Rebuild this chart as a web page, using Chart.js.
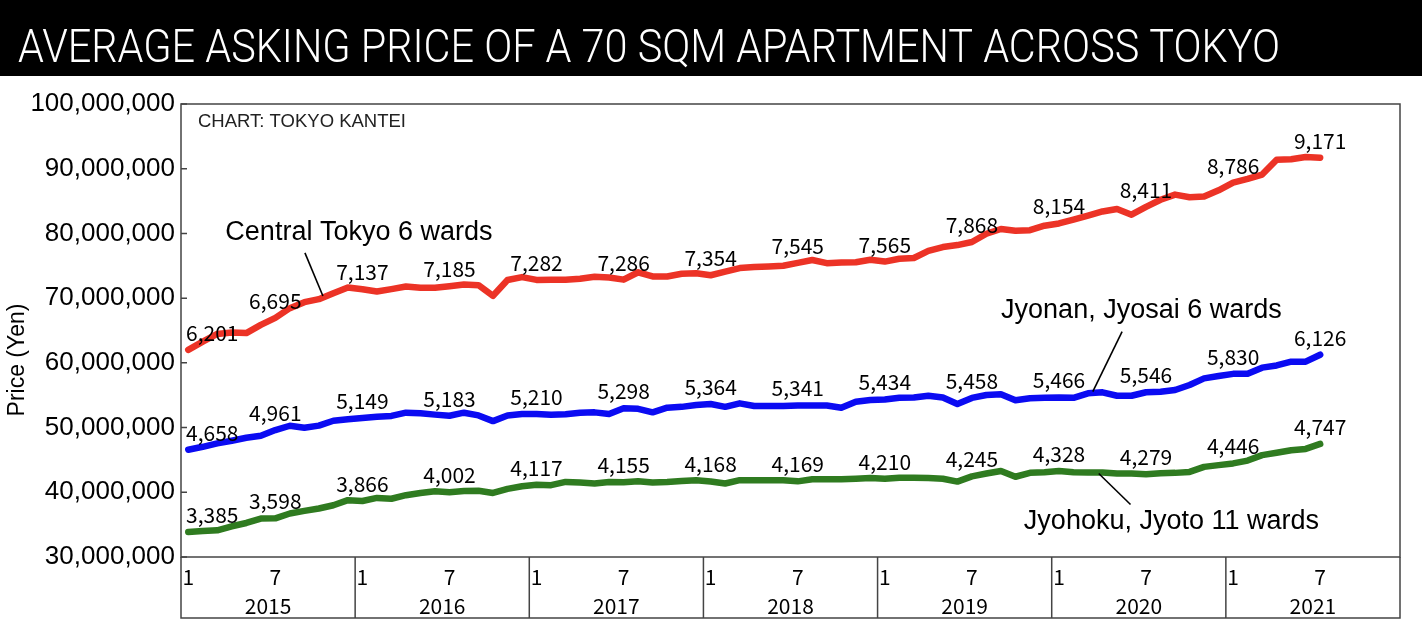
<!DOCTYPE html>
<html><head><meta charset="utf-8">
<script src="https://cdn.jsdelivr.net/npm/chart.js@4.4.1/dist/chart.umd.min.js"></script>
<style>html,body{margin:0;padding:0;background:#fff;overflow:hidden}canvas{display:block}</style>
</head><body>
<canvas id="c" width="1422" height="623" style="width:1422px;height:623px"></canvas>
<script>
// ---- data (values in units of 10,000 yen) ----
const years = ['2015','2016','2017','2018','2019','2020','2021'];
const monthTicks = ['1','','','','','','7','','','','',''];
const labelMonths = [1, 7];
const seriesNames = ['Central Tokyo 6 wards', 'Jyonan, Jyosai 6 wards', 'Jyohoku, Jyoto 11 wards'];
const centralTokyo = [
  6201,6328,6447,6468,6460,6587,6695,6845,6938,6984,7077,7164,
  7137,7102,7140,7180,7160,7160,7185,7210,7200,7036,7280,7325,
  7282,7285,7285,7300,7330,7319,7286,7400,7335,7335,7376,7385,
  7354,7410,7464,7480,7490,7500,7545,7590,7540,7550,7555,7593,
  7565,7608,7620,7730,7790,7820,7868,7995,8068,8042,8050,8119,
  8154,8212,8274,8340,8378,8290,8411,8520,8600,8560,8570,8667,
  8786,8842,8909,9140,9145,9180,9171
];
const jyonanJyosai = [
  4658,4703,4755,4796,4842,4873,4961,5028,4997,5030,5105,5130,
  5149,5167,5180,5230,5220,5200,5183,5230,5188,5100,5188,5210,
  5210,5200,5205,5230,5235,5209,5298,5290,5235,5307,5320,5348,
  5364,5320,5374,5333,5333,5333,5341,5340,5340,5307,5400,5425,
  5434,5460,5465,5492,5465,5364,5458,5503,5514,5421,5452,5460,
  5466,5460,5529,5545,5492,5492,5546,5555,5580,5658,5760,5797,
  5830,5830,5926,5960,6018,6018,6126
];
const jyohokuJyoto = [
  3385,3400,3413,3475,3526,3594,3598,3672,3712,3749,3800,3878,
  3866,3913,3900,3955,3990,4015,4002,4020,4025,3990,4052,4094,
  4117,4110,4160,4150,4136,4160,4155,4172,4150,4160,4175,4187,
  4168,4136,4187,4187,4187,4187,4169,4200,4200,4200,4210,4220,
  4210,4225,4225,4220,4210,4165,4245,4290,4330,4240,4300,4310,
  4328,4310,4305,4305,4290,4290,4279,4295,4300,4315,4393,4420,
  4446,4490,4574,4610,4650,4670,4747
];
const yTicksYen = [30000000, 100000000, 10000000]; // min, max, step

// ---- styles ----
const colors = ['#EC3326', '#0B0BF2', '#2F7B20'];
const categories = years.flatMap(y => monthTicks.map((_, m) => y + '-' + (m + 1)));
const UNIT = 10000;

// callouts in data coordinates: [category index, yen]
const callouts = [
  { text: seriesNames[0], at: [11.76, 80.1e6], from: [8.04, 77.0e6], to: [9.28, 70.34e6] },
  { text: seriesNames[1], at: [65.68, 68.03e6], from: [64.35, 64.83e6], to: [62.33, 55.54e6] },
  { text: seriesNames[2], at: [67.75, 35.42e6], from: [62.74, 42.91e6], to: [64.93, 38.11e6] }
];

const decor = {
  id: 'decor',
  beforeDraw(chart) {
    const ctx = chart.ctx;
    ctx.save();
    ctx.fillStyle = '#fff';
    ctx.fillRect(0, 0, chart.width, chart.height);
    // title bar
    ctx.fillStyle = '#000';
    ctx.fillRect(0, 0, chart.width, 76);
    ctx.fillStyle = '#fff';
    ctx.font = '300 46px Roboto, "Liberation Sans", sans-serif';
    ctx.textBaseline = 'alphabetic';
    ctx.textAlign = 'left';
    const t = 'AVERAGE ASKING PRICE OF A 70 SQM APARTMENT ACROSS TOKYO';
    const w = ctx.measureText(t).width;
    ctx.translate(18, 62);
    ctx.scale(1262 / w, 1);
    ctx.fillText(t, 0, 0);
    ctx.restore();
  },
  afterDraw(chart) {
    const ctx = chart.ctx, a = chart.chartArea;
    const xs = chart.scales.x, ys = chart.scales.y;
    ctx.save();
    // frame
    ctx.strokeStyle = '#444';
    ctx.lineWidth = 1.5;
    ctx.strokeRect(a.left, a.top, a.right - a.left, a.bottom - a.top);
    const boxBottom = a.bottom + 61;
    ctx.beginPath();
    ctx.moveTo(a.left, a.bottom); ctx.lineTo(a.left, boxBottom);
    ctx.lineTo(a.right, boxBottom); ctx.lineTo(a.right, a.bottom);
    const cw = (xs.getPixelForValue(1) - xs.getPixelForValue(0));
    years.forEach((y, k) => {
      if (k === 0) return;
      const xb = xs.getPixelForValue(k * 12) - cw / 2;
      ctx.moveTo(xb, a.bottom); ctx.lineTo(xb, boxBottom);
    });
    ctx.stroke();
    // inner y ticks
    ctx.beginPath();
    ys.ticks.forEach(tk => {
      const yp = ys.getPixelForValue(tk.value);
      ctx.moveTo(a.left, yp); ctx.lineTo(a.left + 6, yp);
    });
    ctx.stroke();
    // year labels
    ctx.fillStyle = '#000';
    ctx.font = '21px "Noto Sans CJK JP", sans-serif';
    ctx.textAlign = 'center';
    ctx.textBaseline = 'middle';
    years.forEach((y, k) => {
      const xc = (xs.getPixelForValue(k * 12) + xs.getPixelForValue(k * 12 + 11)) / 2;
      ctx.fillText(y, xc, a.bottom + 49);
    });
    // y-axis title
    ctx.save();
    ctx.translate(18, 360);
    ctx.rotate(-Math.PI / 2);
    ctx.font = '23px "Liberation Sans", Arial, sans-serif';
    ctx.fillText('Price (Yen)', 0, 0);
    ctx.restore();
    // source note
    ctx.font = '18.5px "Liberation Sans", Arial, sans-serif';
    ctx.fillStyle = '#222';
    ctx.textAlign = 'left';
    ctx.fillText('CHART: TOKYO KANTEI', a.left + 17, a.top + 18);
    // callouts
    ctx.fillStyle = '#000';
    ctx.strokeStyle = '#000';
    ctx.lineWidth = 1.6;
    ctx.font = '27px "Liberation Sans", Arial, sans-serif';
    ctx.textAlign = 'center';
    callouts.forEach(c => {
      ctx.fillText(c.text, xs.getPixelForValue(c.at[0]), ys.getPixelForValue(c.at[1]));
      ctx.beginPath();
      ctx.moveTo(xs.getPixelForValue(c.from[0]), ys.getPixelForValue(c.from[1]));
      ctx.lineTo(xs.getPixelForValue(c.to[0]), ys.getPixelForValue(c.to[1]));
      ctx.stroke();
    });
    // value labels
    ctx.font = '21px "Noto Sans CJK JP", sans-serif';
    chart.data.datasets.forEach((ds, d) => {
      const meta = chart.getDatasetMeta(d);
      const raw = [centralTokyo, jyonanJyosai, jyohokuJyoto][d];
      raw.forEach((v, i) => {
        if (!labelMonths.includes(i % 12 + 1)) return;
        const pt = meta.data[i];
        const txt = v.toLocaleString('en-US');
        const tw = ctx.measureText(txt).width;
        let x = pt.x;
        if (x - tw / 2 < a.left + 5) x = a.left + 5 + tw / 2;
        ctx.fillText(txt, x, pt.y - 17);
      });
    });
    ctx.restore();
  }
};

new Chart(document.getElementById('c'), {
  type: 'line',
  data: {
    labels: categories,
    datasets: [centralTokyo, jyonanJyosai, jyohokuJyoto].map((arr, d) => ({
      label: seriesNames[d],
      data: arr.map(v => v * UNIT),
      borderColor: colors[d],
      backgroundColor: colors[d],
      borderWidth: 6.5,
      pointRadius: 0,
      tension: 0,
      fill: false,
      borderCapStyle: 'round',
      borderJoinStyle: 'round'
    }))
  },
  options: {
    responsive: false,
    animation: false,
    devicePixelRatio: 1,
    layout: { padding: { left: 0, right: 22, top: 104, bottom: 5 } },
    plugins: { legend: { display: false }, tooltip: { enabled: false }, title: { display: false } },
    scales: {
      x: {
        type: 'category',
        offset: true,
        grid: { display: false, drawTicks: false },
        border: { display: false },
        ticks: {
          autoSkip: false, maxRotation: 0, minRotation: 0, padding: 7,
          color: '#000',
          font: { family: '"Noto Sans CJK JP"', size: 21 },
          callback: (v, i) => monthTicks[i % 12]
        },
        afterFit: s => { s.height = 61; }
      },
      y: {
        min: yTicksYen[0], max: yTicksYen[1],
        grid: { display: false, drawTicks: false },
        border: { display: false },
        ticks: {
          stepSize: yTicksYen[2], padding: 6, color: '#000',
          font: { family: '"Liberation Sans"', size: 26 },
          callback: v => Number(v).toLocaleString('en-US')
        },
        afterFit: s => { s.width = 181; }
      }
    }
  },
  plugins: [decor]
});
</script>
</body></html>
